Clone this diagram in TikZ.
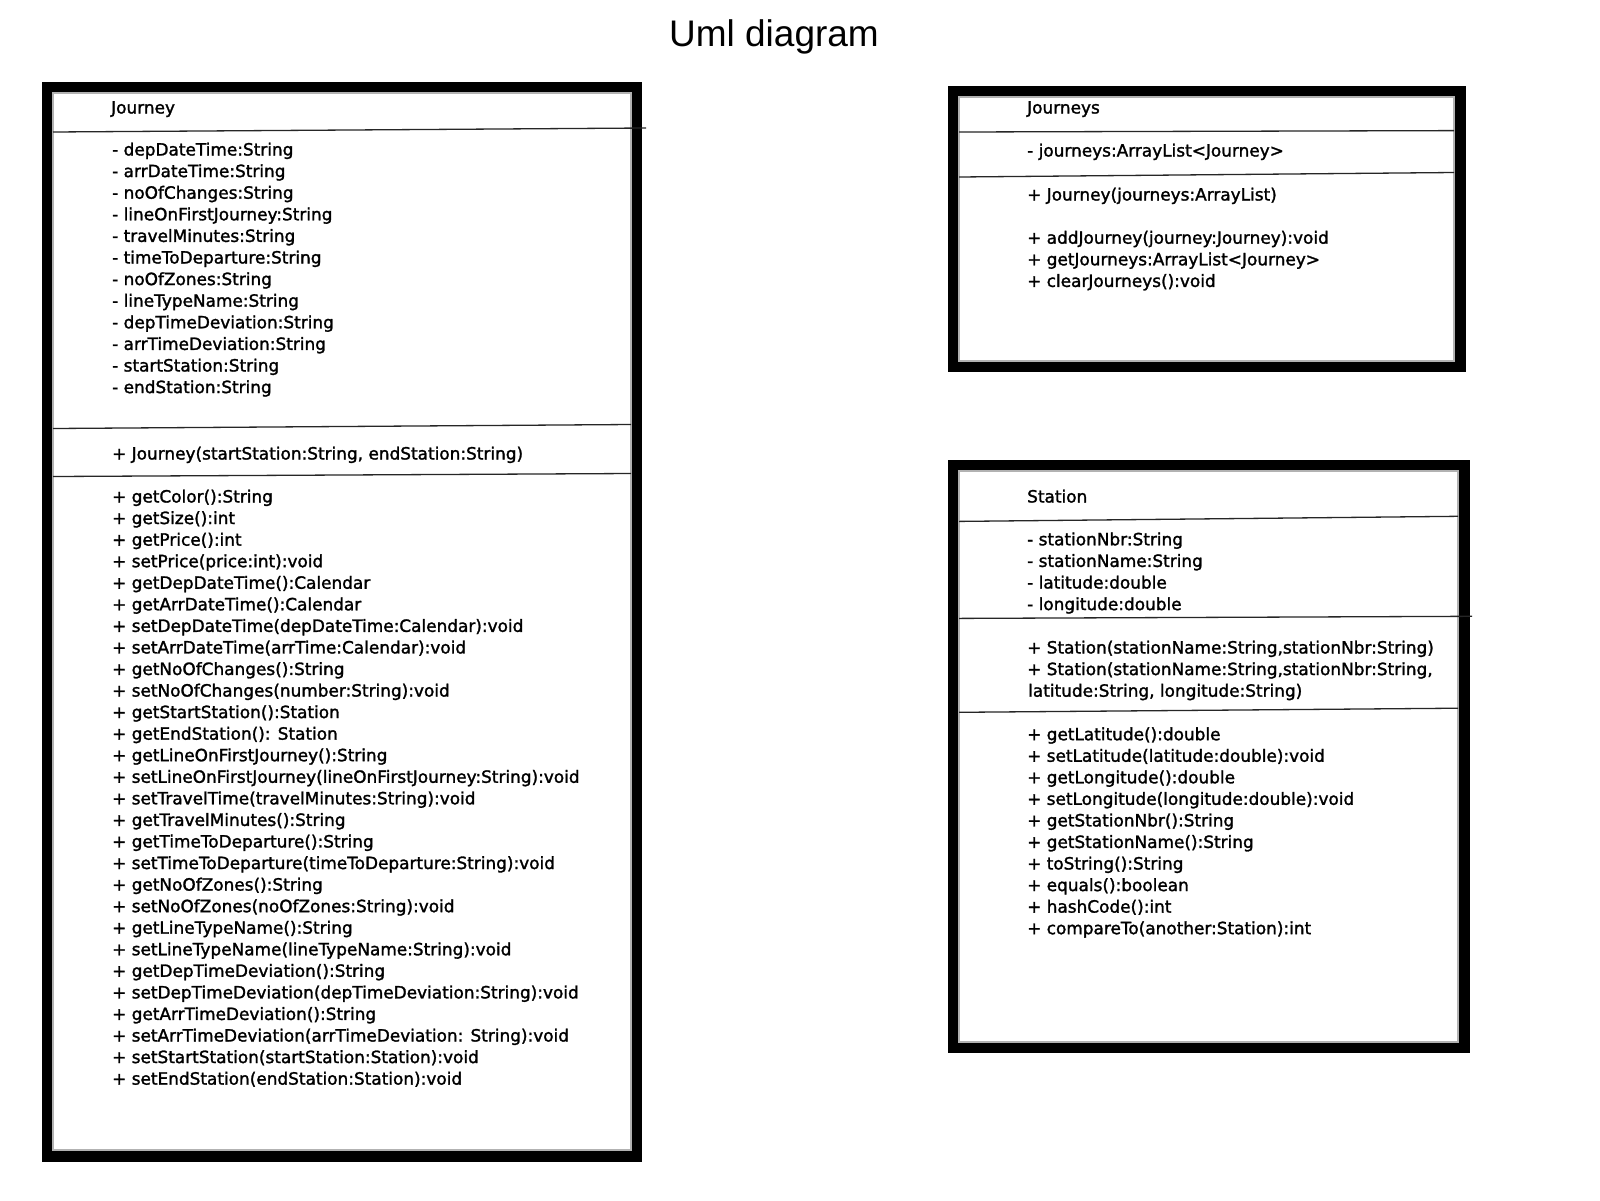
\documentclass[tikz,border=0pt]{standalone}
\usepackage{fontspec}
\setmainfont{DejaVu Sans}[FakeBold=1.6]
\newfontfamily\titlefont{Liberation Sans}
\usepackage{tikz}

\begin{document}
\begin{tikzpicture}[x=1pt, y=-1pt,
	member/.style={anchor=base west, inner sep=0pt, font=\fontsize{16.9}{20}\selectfont},
	frame/.style={fill=black},
	inner/.style={fill=white, draw=gray!60, line width=1.2pt},
	divider/.style={draw=black!85, line width=1.3pt}]
	\useasboundingbox (0,0) rectangle (1600,1200);

	%% TITLE
	\node[inner sep=0pt, font=\titlefont\fontsize{37}{40}\selectfont](title) at (774,37){Uml diagram};

	%% JOURNEY class
	\fill[frame] (42,82) rectangle (642,1162);
	\filldraw[inner] (53,93) rectangle (631,1150);
	\draw[divider] (53,132) -- (646,128);
	\draw[divider] (53,428.5) -- (631,424.5);
	\draw[divider] (53,476.5) -- (631,473.5);

	\node[member](journey_name) at (111,113.5){Journey};
	\foreach \txt [count=\i from 0] in {
		- depDateTime:String,
		- arrDateTime:String,
		- noOfChanges:String,
		- lineOnFirstJourney:String,
		- travelMinutes:String,
		- timeToDeparture:String,
		- noOfZones:String,
		- lineTypeName:String,
		- depTimeDeviation:String,
		- arrTimeDeviation:String,
		- startStation:String,
		- endStation:String}
		\node[member](journey_attr\i) at (112,155.5+21.6*\i){\txt};
	\node[member](journey_ctor) at (112,459.5){+ Journey(startStation:String, endStation:String)};
	\foreach \txt [count=\i from 0] in {
		+ getColor():String,
		+ getSize():int,
		+ getPrice():int,
		+ setPrice(price:int):void,
		+ getDepDateTime():Calendar,
		+ getArrDateTime():Calendar,
		+ setDepDateTime(depDateTime:Calendar):void,
		+ setArrDateTime(arrTime:Calendar):void,
		+ getNoOfChanges():String,
		+ setNoOfChanges(number:String):void,
		+ getStartStation():Station,
		+ getEndStation(): Station,
		+ getLineOnFirstJourney():String,
		+ setLineOnFirstJourney(lineOnFirstJourney:String):void,
		+ setTravelTime(travelMinutes:String):void,
		+ getTravelMinutes():String,
		+ getTimeToDeparture():String,
		+ setTimeToDeparture(timeToDeparture:String):void,
		+ getNoOfZones():String,
		+ setNoOfZones(noOfZones:String):void,
		+ getLineTypeName():String,
		+ setLineTypeName(lineTypeName:String):void,
		+ getDepTimeDeviation():String,
		+ setDepTimeDeviation(depTimeDeviation:String):void,
		+ getArrTimeDeviation():String,
		+ setArrTimeDeviation(arrTimeDeviation: String):void,
		+ setStartStation(startStation:Station):void,
		+ setEndStation(endStation:Station):void}
		\node[member](journey_meth\i) at (112,502.5+21.56*\i){\txt};

	%% JOURNEYS class
	\fill[frame] (948,86) rectangle (1466,372);
	\filldraw[inner] (959,97) rectangle (1454,361);
	\draw[divider] (959,132) -- (1454,130.6);
	\draw[divider] (959,177) -- (1454,172.5);

	\node[member](journeys_name) at (1027,113.5){Journeys};
	\node[member](journeys_attr) at (1027,156.5){- journeys:ArrayList<Journey>};
	\foreach \txt [count=\i from 0] in {
		+ Journey(journeys:ArrayList),
		{},
		+ addJourney(journey:Journey):void,
		+ getJourneys:ArrayList<Journey>,
		+ clearJourneys():void}
		\node[member](journeys_meth\i) at (1027,200.5+21.6*\i){\txt};

	%% STATION class
	\fill[frame] (948,460) rectangle (1470,1053);
	\filldraw[inner] (959,471) rectangle (1458,1042);
	\draw[divider] (959,521.4) -- (1458,516.3);
	\draw[divider] (959,618.4) -- (1472,616.3);
	\draw[divider] (959,712.3) -- (1458,708.2);

	\node[member](station_name) at (1027,502.5){Station};
	\foreach \txt [count=\i from 0] in {
		- stationNbr:String,
		- stationName:String,
		- latitude:double,
		- longitude:double}
		\node[member](station_attr\i) at (1027,545.3+21.6*\i){\txt};
	\node[member](station_ctor0) at (1027,653.5){+ Station(stationName:String,stationNbr:String)};
	\node[member](station_ctor1) at (1027,675.1){+ Station(stationName:String,stationNbr:String,};
	\node[member](station_ctor2) at (1028,696.7){latitude:String, longitude:String)};
	\foreach \txt [count=\i from 0] in {
		+ getLatitude():double,
		+ setLatitude(latitude:double):void,
		+ getLongitude():double,
		+ setLongitude(longitude:double):void,
		+ getStationNbr():String,
		+ getStationName():String,
		+ toString():String,
		+ equals():boolean,
		+ hashCode():int,
		+ compareTo(another:Station):int}
		\node[member](station_meth\i) at (1027,740.2+21.55*\i){\txt};

\end{tikzpicture}
\end{document}
